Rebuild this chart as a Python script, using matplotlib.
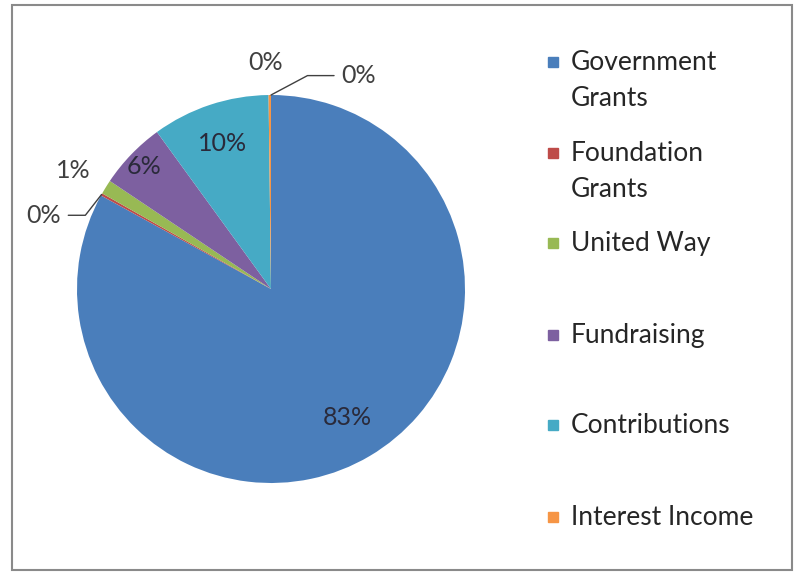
import matplotlib.pyplot as plt
from matplotlib.patches import Rectangle
import numpy as np

# data
names = ['Government\nGrants', 'Foundation\nGrants', 'United Way', 'Fundraising',
         'Contributions', 'Interest Income', '']
values = [83.0, 0.2, 1.2, 5.6, 9.8, 0.2, 0.0]
colors = ['#4A7EBB', '#BE4B48', '#98B954', '#7D60A0', '#46AAC5', '#F69545', '#888888']

plt.rcParams['font.family'] = ['Lato', 'DejaVu Sans']

fig = plt.figure(figsize=(7.99, 5.75), dpi=100)
W, H = 799, 575

# chart border
fig.patches.append(Rectangle((12 / W, 5 / H), 780 / W, 565 / H, transform=fig.transFigure,
                             fill=False, edgecolor='#8a8a8a', linewidth=1.5))

cx, cy, r = 271, 289, 194
ax = fig.add_axes([(cx - r) / W, (H - cy - r) / H, 2 * r / W, 2 * r / H])
wedges, _ = ax.pie(values, colors=colors, startangle=90, counterclock=False, radius=1.0)
ax.set_xlim(-1, 1)
ax.set_ylim(-1, 1)
ax.set_aspect('equal')
ax.axis('off')

total = sum(values)
txt_color = '#404040'
# label placement: ('in', radius) or ('out', x, y, leader angle)
place = [('in', 0.77), ('out', -1.17, 0.38, 52), ('out', -1.02, 0.61, None),
         ('in', 0.91), ('in', 0.79), ('out', -0.03, 1.17, None), ('out', 0.45, 1.10, 28)]
for w, v, p in zip(wedges, values, place):
    txt = f'{v / total * 100:.0f}%'
    mid = np.deg2rad((w.theta1 + w.theta2) / 2)
    if p[0] == 'in':
        ax.text(p[1] * np.cos(mid), p[1] * np.sin(mid), txt, ha='center', va='center',
                fontsize=18, color='#2a2a3a')
    elif p[3] is not None:
        ax.annotate(txt, xy=(np.cos(mid), np.sin(mid)), xytext=(p[1], p[2]),
                    ha='center', va='center', fontsize=18, color=txt_color,
                    arrowprops=dict(arrowstyle='-', color='#404040', lw=1,
                                    shrinkA=3, shrinkB=0,
                                    connectionstyle=f'angle,angleA=0,angleB={p[3]},rad=0'),
                    annotation_clip=False)
    else:
        ax.text(p[1], p[2], txt, ha='center', va='center', fontsize=18, color=txt_color)

# legend
ys = [62, 153, 243, 335, 425, 517]
for name, c, y in zip(names[:6], colors[:6], ys):
    fig.patches.append(Rectangle((548 / W, (H - y - 5) / H), 10 / W, 10 / H,
                                 transform=fig.transFigure, color=c))
    fig.text(571 / W, (H - y + 12) / H, name, ha='left', va='top', fontsize=19,
             color='#262626', linespacing=1.55)

fig.savefig('out.png', dpi=100)
